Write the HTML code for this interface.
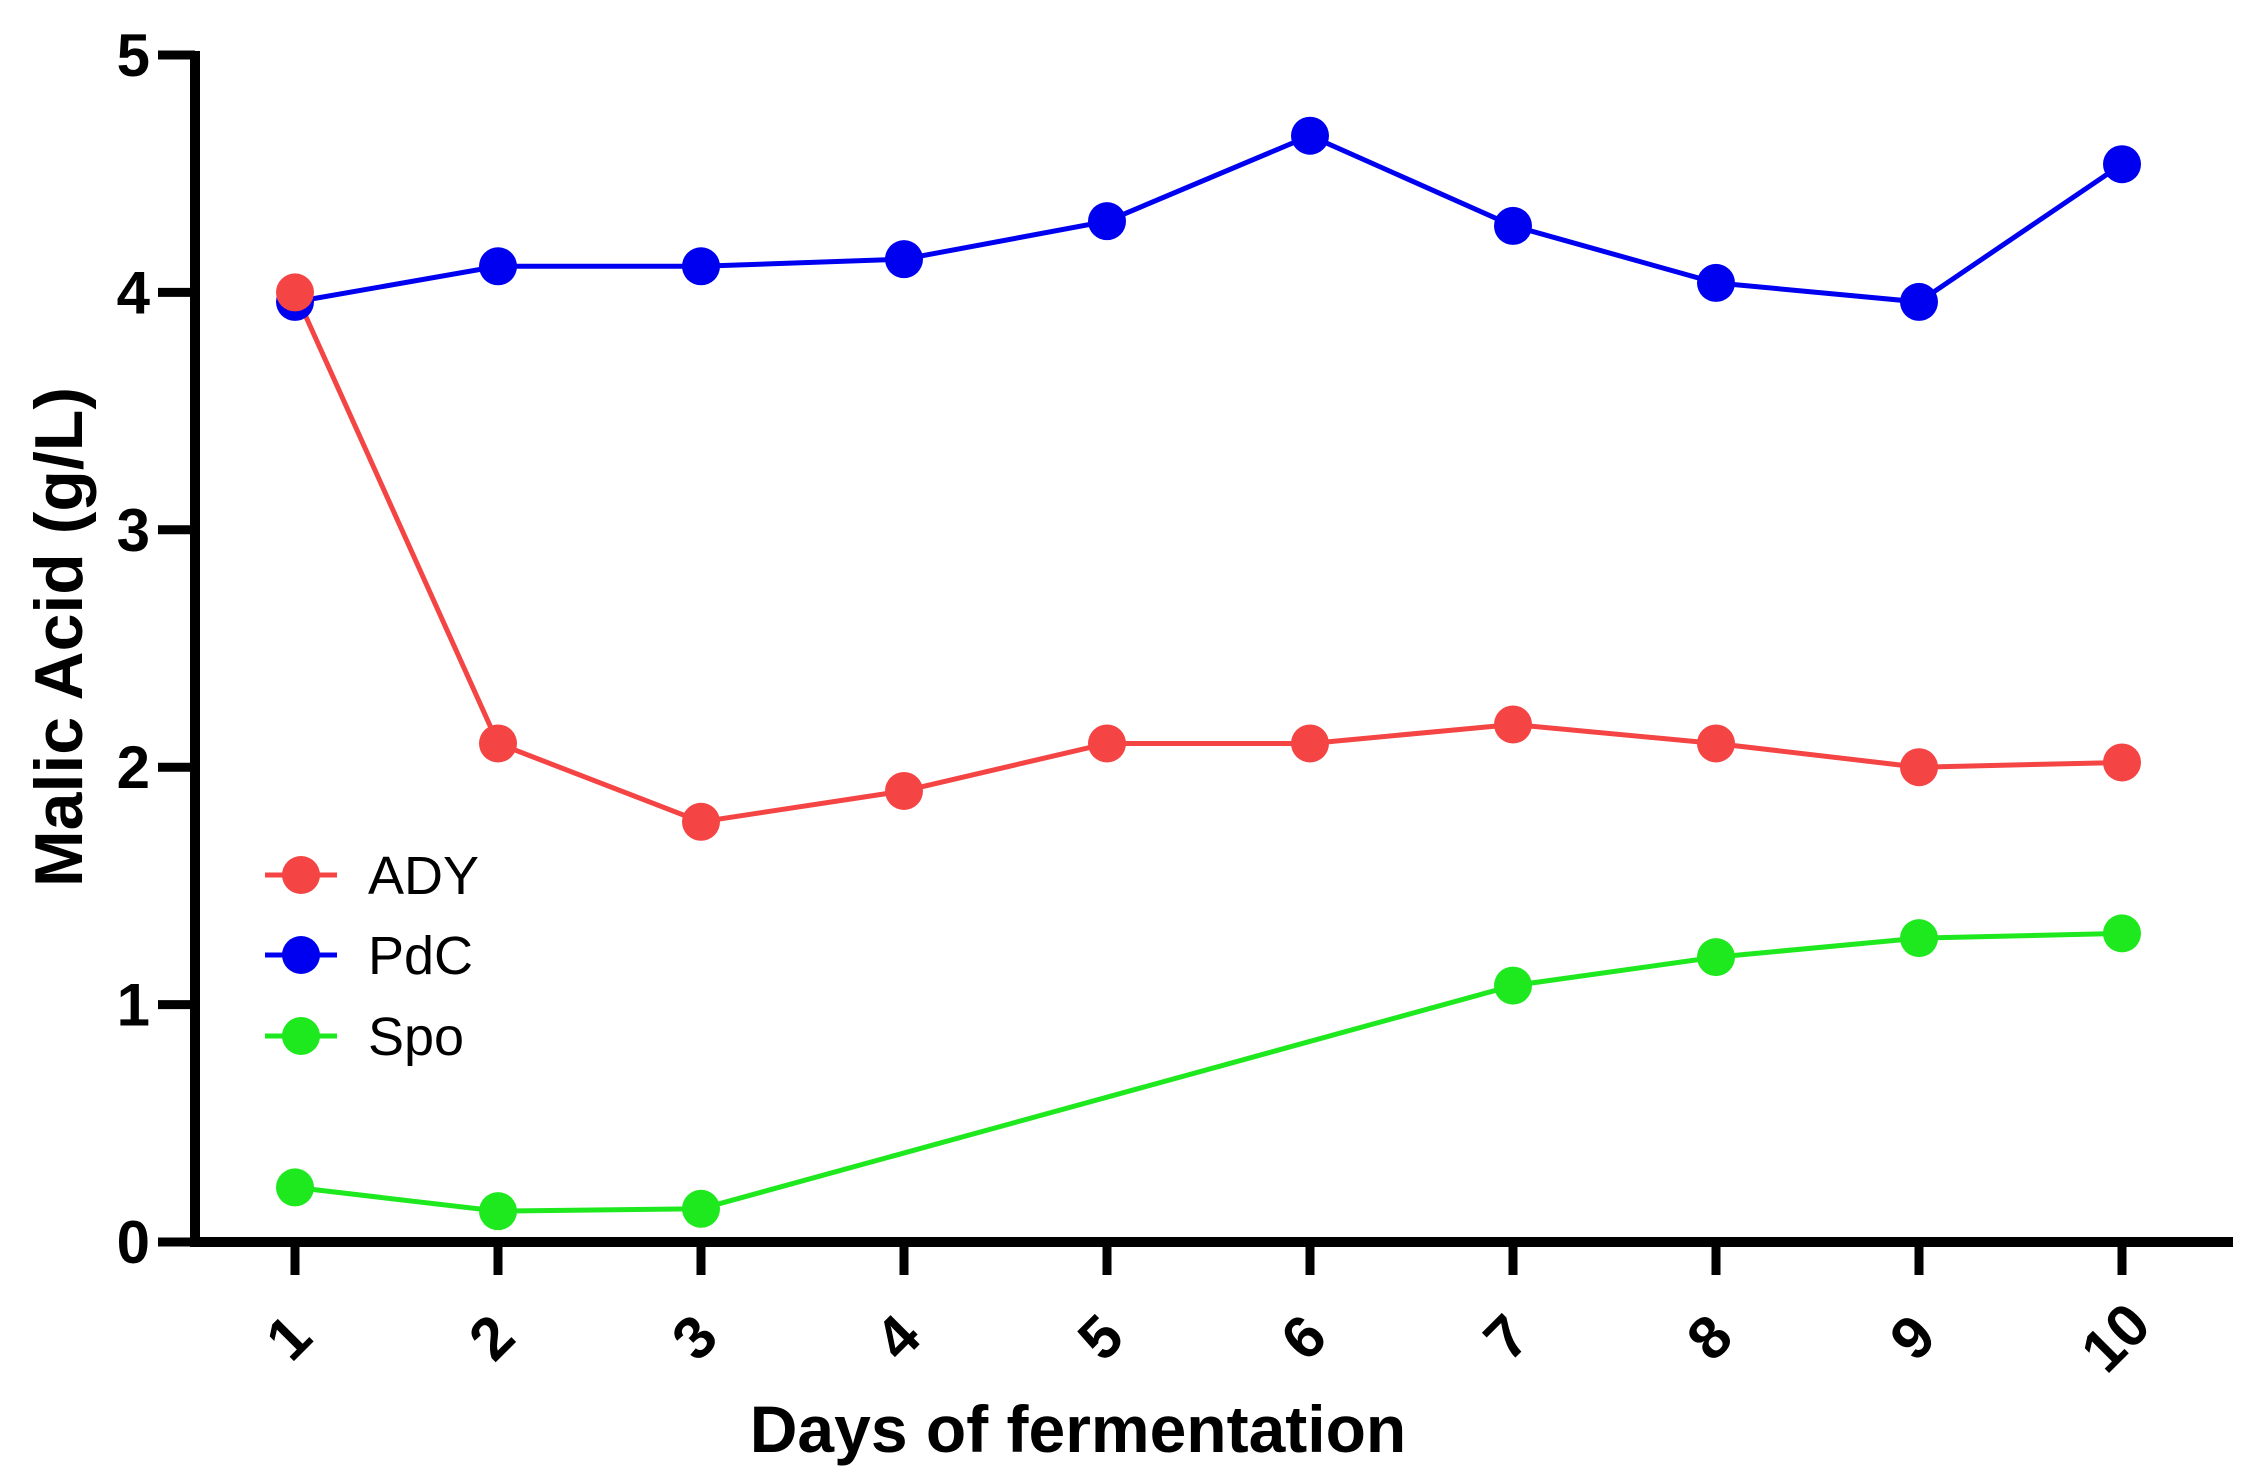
<!DOCTYPE html>
<html><head><meta charset="utf-8"><style>
html,body{margin:0;padding:0;background:#fff;}
svg{display:block;font-family:"Liberation Sans",Arial,sans-serif;}
</style></head><body>
<svg id="chart" width="2262" height="1479" viewBox="0 0 2262 1479">
<g id="axes"></g><g id="series"></g><g id="legend"></g>
</svg>
<script>
const days = [1,2,3,4,5,6,7,8,9,10];
const yTicks = [0,1,2,3,4,5];
const adyValues = [4.0,2.1,1.77,1.9,2.1,2.1,2.18,2.1,2.0,2.02];
const pdcValues = [3.96,4.11,4.11,4.14,4.3,4.66,4.28,4.04,3.96,4.54];
const spoValues = [0.23,0.13,0.14,null,null,null,1.08,1.2,1.28,1.3];
const seriesNames = ['ADY','PdC','Spo'];

const NS='http://www.w3.org/2000/svg';
const X0=295, DX=203, Y0=1242, DY=237.4;
const xs=d=>X0+(d-1)*DX;
const ys=v=>Y0-v*DY;
function mk(tag,attrs,parent){const e=document.createElementNS(NS,tag);for(const k in attrs)e.setAttribute(k,attrs[k]);parent.appendChild(e);return e;}
const axes=document.getElementById('axes');
let e;
e=mk('line',{x1:195,y1:51,x2:195,y2:1247,stroke:'#000','stroke-width':10},axes);


e=mk('line',{x1:190,y1:Y0,x2:2233,y2:Y0,stroke:'#000','stroke-width':10},axes);


yTicks.forEach(t=>{
  const y=ys(t);
  let l=mk('line',{x1:158,y1:y,x2:195,y2:y,stroke:'#000','stroke-width':9},axes);
  
  
  let tx=mk('text',{x:150,y:y+21,'text-anchor':'end','font-size':60,'font-weight':'bold'},axes);
  tx.textContent=t;
  
  
});
days.forEach(d=>{
  const x=xs(d);
  let l=mk('line',{x1:x,y1:Y0,x2:x,y2:1275,stroke:'#000','stroke-width':9},axes);
  
  
  let tx=mk('text',{x:0,y:0,'text-anchor':'middle','font-size':60,'font-weight':'bold',transform:`translate(${x+8},${1352}) rotate(-45)`},axes);
  tx.textContent=d;
  
  
});
e=mk('text',{x:0,y:0,'text-anchor':'middle','font-size':68,'font-weight':'bold',transform:'translate(82,637) rotate(-90)'},axes);
e.textContent='Malic Acid (g/L)';


e=mk('text',{x:1078,y:1452,'text-anchor':'middle','font-size':66,'font-weight':'bold'},axes);
e.textContent='Days of fermentation';



const colors=['#f44444','#0000f0','#1ee81e'];
const allVals=[adyValues,pdcValues,spoValues];
const sg=document.getElementById('series');
allVals.forEach((vals,i)=>{
  const pts=[];vals.forEach((v,j)=>{if(v!==null)pts.push(xs(days[j])+','+ys(v));});
  let p=mk('polyline',{points:pts.join(' '),fill:'none',stroke:colors[i],'stroke-width':5},sg);
  
  
});
[1,0,2].forEach(i=>{
  allVals[i].forEach((v,j)=>{
    if(v===null)return;
    let c=mk('circle',{cx:xs(days[j]),cy:ys(v),r:19,fill:colors[i]},sg);
    
    
  });
});
const lg=document.getElementById('legend');
const legY=[875,955,1036];
seriesNames.forEach((n,i)=>{
  let g=mk('g',{},lg);
  
  
  mk('line',{x1:265,y1:legY[i],x2:337,y2:legY[i],stroke:colors[i],'stroke-width':5},g);
  mk('circle',{cx:301,cy:legY[i],r:19,fill:colors[i]},g);
  let t=mk('text',{x:368,y:legY[i]+19,'font-size':54},g);
  t.textContent=n;
});
</script>
</body></html>
